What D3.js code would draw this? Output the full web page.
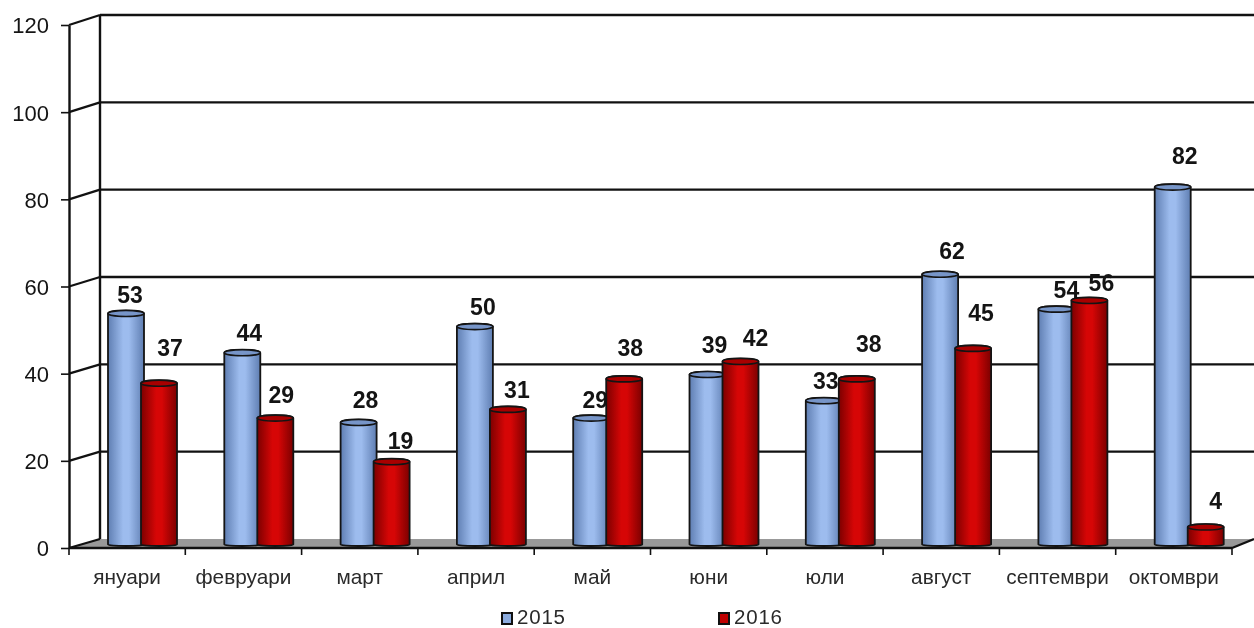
<!DOCTYPE html>
<html>
<head>
<meta charset="utf-8">
<script src="https://cdn.jsdelivr.net/npm/d3@7"></script>
<style>
  html, body { margin: 0; padding: 0; background: #fff; }
  svg { display: block; filter: blur(0.35px); }
  text { font-family: "Liberation Sans", Arial, sans-serif; fill: #141414; }
</style>
</head>
<body>
<div id="plot"></div>
<script>
const months = ["януари", "февруари", "март", "април", "май", "юни", "юли", "август", "септември", "октомври"];
const seriesNames = ["2015", "2016"];
const values2015 = [53, 44, 28, 50, 29, 39, 33, 62, 54, 82];
const values2016 = [37, 29, 19, 31, 38, 42, 38, 45, 56, 4];
const yTicks = [0, 20, 40, 60, 80, 100, 120];

const w = 1254;
const h = 628;

const svg = d3.select("div#plot")
  .append("svg")
  .attr("width", w)
  .attr("height", h);

// 3d look: front plane, back wall shifted up and right by a fixed depth
const depthX = 31;
const left = 69;
const right = 1232;

const xScale = d3.scaleBand().domain(months).range([left, right]);
const yFront = d3.scaleLinear().domain([0, 120]).range([548, 25]);
const yBack = d3.scaleLinear().domain([0, 120]).range([539, 15]);
const yBar = d3.scaleLinear().domain([0, 120]).range([544.5, 21.5]);

const barW = 36;
const capRy = 3;
const colors = {
  "2015": { edge: "#5f7eb2", mid: "#9dbcee", cap: "#7795c8", swatch: "#8cacdf" },
  "2016": { edge: "#7c0000", mid: "#d60606", cap: "#a80000", swatch: "#c00000" }
};

// gradients for the cylinders
const defs = svg.append("defs");
seriesNames.forEach(name => {
  const g = defs.append("linearGradient")
    .attr("id", "grad" + name)
    .attr("x1", 0).attr("x2", 1).attr("y1", 0).attr("y2", 0);
  g.append("stop").attr("offset", "0%").attr("stop-color", colors[name].edge);
  g.append("stop").attr("offset", "42%").attr("stop-color", colors[name].mid);
  g.append("stop").attr("offset", "58%").attr("stop-color", colors[name].mid);
  g.append("stop").attr("offset", "100%").attr("stop-color", colors[name].edge);
});

// floor
svg.append("path")
  .attr("d", `M${left},${yFront(0)} L${left + depthX},${yBack(0)} L${w},${yBack(0)} L${right},${yFront(0)} Z`)
  .attr("fill", "#999999");

// back wall grid
svg.append("g").selectAll("line")
  .data(yTicks.filter(d => d > 0))
  .join("line")
  .attr("x1", left + depthX)
  .attr("x2", w)
  .attr("y1", d => yBack(d))
  .attr("y2", d => yBack(d))
  .attr("stroke", "#111")
  .attr("stroke-width", 2.4);

// side wall diagonals
svg.append("g").selectAll("line")
  .data(yTicks)
  .join("line")
  .attr("x1", left)
  .attr("x2", left + depthX)
  .attr("y1", d => yFront(d))
  .attr("y2", d => yBack(d))
  .attr("stroke", "#111")
  .attr("stroke-width", 2.2);

svg.append("line")
  .attr("x1", left + depthX).attr("x2", left + depthX)
  .attr("y1", yBack(120)).attr("y2", yBack(0))
  .attr("stroke", "#111")
  .attr("stroke-width", 2.4);

// y axis on the front plane
const yAxis = d3.axisLeft(yFront).tickValues(yTicks).tickSize(8).tickSizeOuter(0);
const yG = svg.append("g")
  .attr("transform", `translate(${left},0)`)
  .call(yAxis);
yG.select(".domain").attr("stroke", "#111").attr("stroke-width", 2.4);
yG.selectAll(".tick line").attr("stroke", "#111").attr("stroke-width", 1.6);
yG.selectAll(".tick text")
  .attr("x", -20)
  .attr("dy", "0.36em")
  .style("font-size", "22px")
  .style("font-family", '"Liberation Sans", Arial, sans-serif');

// x axis, ticks sit on band edges so they are drawn from the band scale
const xG = svg.append("g")
  .attr("transform", `translate(0,${yFront(0)})`);
xG.append("line")
  .attr("x1", left).attr("x2", right)
  .attr("stroke", "#111").attr("stroke-width", 2.4);
xG.append("line")
  .attr("x1", right).attr("x2", w)
  .attr("y1", 0).attr("y2", yBack(0) - yFront(0))
  .attr("stroke", "#111").attr("stroke-width", 2.2);
xG.selectAll("line.tick")
  .data(months.concat("end"))
  .join("line")
  .attr("class", "tick")
  .attr("x1", (d, i) => left + i * xScale.step())
  .attr("x2", (d, i) => left + i * xScale.step())
  .attr("y1", 0).attr("y2", 7)
  .attr("stroke", "#111").attr("stroke-width", 1.6);
xG.selectAll("text")
  .data(months)
  .join("text")
  .attr("x", d => xScale(d) + xScale.bandwidth() / 2)
  .attr("y", 36)
  .attr("text-anchor", "middle")
  .style("font-size", "20.8px")
  .style("fill", "#2a2a2a")
  .text(d => d);

function cylinder(x, top, bottom) {
  const r = barW / 2;
  return `M${x},${top} L${x},${bottom} A${r},1.5 0 0 0 ${x + barW},${bottom} L${x + barW},${top} ` +
    `A${r},${capRy} 0 0 0 ${x},${top} Z`;
}

const seriesData = [
  { name: "2015", values: values2015, offset: 39 },
  { name: "2016", values: values2016, offset: 72 }
];

seriesData.forEach(s => {
  const g = svg.append("g").attr("class", "bars" + s.name);
  const groups = g.selectAll("g")
    .data(s.values)
    .join("g");

  groups.append("path")
    .attr("d", (d, i) => cylinder(xScale(months[i]) + s.offset, yBar(d), yBar(0)))
    .attr("fill", `url(#grad${s.name})`)
    .attr("stroke", "#141414")
    .attr("stroke-width", 1.8);

  groups.append("ellipse")
    .attr("cx", (d, i) => xScale(months[i]) + s.offset + barW / 2)
    .attr("cy", d => yBar(d))
    .attr("rx", barW / 2)
    .attr("ry", capRy)
    .attr("fill", colors[s.name].cap)
    .attr("stroke", "#141414")
    .attr("stroke-width", 1.6);
});

// data labels were hand placed in the original, so each has its own nudge from the bar top
const nudge2015 = [[4, -19], [7, -20], [7, -23], [8, -20], [4, -19], [7, -30], [2, -20], [12, -24], [10, -20], [12, -32]];
const nudge2016 = [[11, -36], [6, -24], [9, -21], [9, -20], [6, -31], [15, -24], [12, -35], [8, -36], [12, -18], [10, -27]];
const nudges = { "2015": nudge2015, "2016": nudge2016 };

seriesData.forEach(s => {
  svg.append("g").selectAll("text")
    .data(s.values)
    .join("text")
    .attr("x", (d, i) => xScale(months[i]) + s.offset + barW / 2 + nudges[s.name][i][0])
    .attr("y", (d, i) => yBar(d) + nudges[s.name][i][1])
    .attr("dy", "0.37em")
    .attr("text-anchor", "middle")
    .style("font-size", "23px")
    .style("font-weight", "bold")
    .text(d => d);
});

// legend
const legendX = d3.scalePoint().domain(seriesNames).range([501, 718]);
const legend = svg.append("g").selectAll("g")
  .data(seriesNames)
  .join("g")
  .attr("transform", d => `translate(${legendX(d)},613)`);
legend.append("rect")
  .attr("x", 1).attr("y", 0)
  .attr("width", 10).attr("height", 11)
  .attr("fill", d => colors[d].swatch)
  .attr("stroke", "#111")
  .attr("stroke-width", 2);
legend.append("text")
  .attr("x", 16)
  .attr("y", 10.6)
  .style("font-size", "20.5px")
  .style("letter-spacing", "0.8px")
  .style("fill", "#2a2a2a")
  .text(d => d);
</script>
</body>
</html>
